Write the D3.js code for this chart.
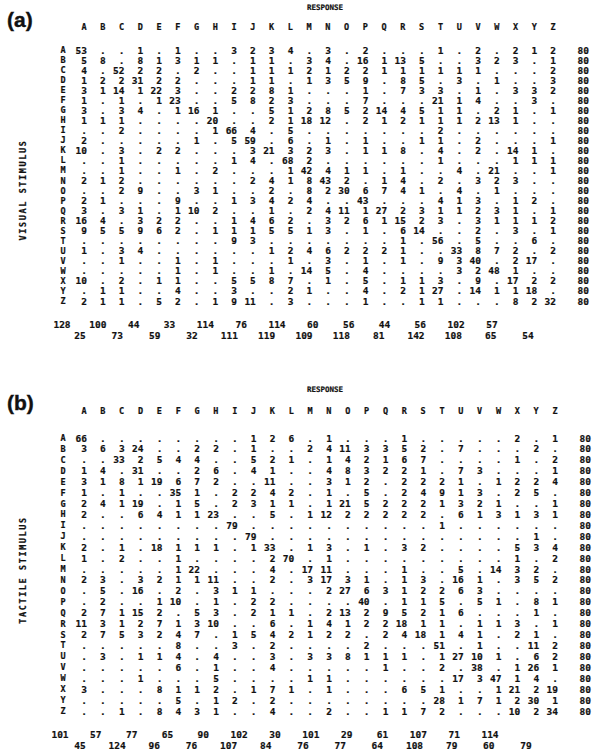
<!DOCTYPE html>
<html>
<head>
<meta charset="utf-8">
<script src="https://cdn.jsdelivr.net/npm/d3@7"></script>
<style>
  body { margin: 0; background: #fff; }
  svg text { font-family: "DejaVu Sans Mono", monospace; font-weight: bold; fill: #111; stroke: #111; stroke-width: 0.2px; }
</style>
</head>
<body>
<div id="chart"></div>
<script>
// Letters used for stimuli and responses
var letters = "ABCDEFGHIJKLMNOPQRSTUVWXYZ".split("");

// (a) visual stimulus -> response counts, one row per stimulus letter (0 printed as ".")
var visualRows = [
  [53,0,0,1,0,1,0,0,3,2,3,4,0,3,0,2,0,0,0,1,0,2,0,2,1,2],
  [5,8,0,8,1,3,1,1,0,1,1,0,3,4,0,16,1,13,5,0,0,3,2,3,0,1],
  [4,0,52,2,2,0,2,0,0,1,1,1,2,1,2,2,1,1,1,1,1,1,0,0,0,2],
  [1,2,2,31,2,2,0,0,0,1,1,0,1,3,5,9,0,8,5,0,3,0,1,0,0,3],
  [3,1,14,1,22,3,0,0,2,2,8,1,0,0,0,1,0,7,3,3,0,1,0,3,3,2],
  [1,0,1,0,1,23,0,0,5,8,2,3,0,0,0,7,0,0,0,21,1,4,0,0,3,0],
  [3,0,3,4,0,1,16,1,0,0,5,1,2,8,5,2,14,4,5,1,1,0,2,1,0,1],
  [1,1,1,0,0,0,0,20,0,0,2,1,18,12,0,2,1,2,1,1,1,2,13,1,0,0],
  [0,0,2,0,0,0,0,1,66,4,0,5,0,0,0,0,0,0,0,2,0,0,0,0,0,0],
  [2,0,0,0,0,0,1,0,5,59,0,6,0,1,0,1,0,0,1,1,0,2,0,0,0,1],
  [10,0,3,0,2,2,0,0,0,3,21,3,2,3,0,1,1,8,0,4,0,2,0,14,1,0],
  [0,0,1,0,0,0,0,0,1,4,0,68,2,0,0,0,0,0,0,1,0,0,0,1,1,1],
  [0,0,1,0,0,1,0,2,0,0,0,1,42,4,1,1,0,1,0,0,4,0,21,0,0,1],
  [2,1,2,0,0,0,0,0,0,2,4,1,8,43,2,0,1,4,0,2,0,3,2,3,0,0],
  [0,0,2,9,0,0,3,1,0,0,2,0,8,2,30,6,7,4,1,0,4,0,1,0,0,0],
  [2,1,0,0,0,9,0,0,1,3,4,2,4,0,0,43,0,0,0,4,1,3,0,1,2,0],
  [3,0,3,1,0,1,10,2,0,0,1,0,2,4,11,1,27,2,3,1,1,2,3,1,0,1],
  [16,4,0,3,2,2,0,0,1,4,6,2,0,3,2,6,1,15,2,3,0,3,1,1,1,2],
  [9,5,5,9,6,2,0,1,1,1,5,5,1,3,0,1,0,6,14,0,0,2,0,3,0,1],
  [0,0,0,0,0,0,0,0,9,3,0,0,0,0,0,0,0,1,0,56,0,5,0,0,6,0],
  [1,0,3,4,0,0,0,0,0,0,1,2,4,6,2,2,2,1,0,0,33,8,7,2,0,2],
  [0,0,1,0,0,1,0,1,0,0,0,1,0,3,0,1,0,1,0,9,3,40,0,2,17,0],
  [0,0,0,0,0,1,0,1,0,0,1,0,14,5,0,4,0,0,0,0,3,2,48,1,0,0],
  [10,0,2,0,1,1,0,0,5,5,8,7,0,1,0,5,0,1,1,3,0,9,0,17,2,2],
  [0,1,1,0,0,4,0,0,3,0,0,2,1,0,0,4,0,2,1,27,0,14,1,1,18,0],
  [2,1,1,0,5,2,0,1,9,11,0,3,0,0,0,1,0,0,1,1,0,0,0,8,2,32]
];
var visualRowTotals = [80,80,80,80,80,80,80,80,80,80,80,80,80,80,80,80,80,80,80,80,80,80,80,80,80,80];
var visualColTotals = [128,25,100,73,44,59,33,32,114,111,76,119,114,109,60,118,56,81,44,142,56,108,102,65,57,54];

// (b) tactile stimulus -> response counts
var tactileRows = [
  [66,0,0,0,0,0,0,0,0,1,2,6,0,1,0,0,0,1,0,0,0,0,0,2,0,1],
  [3,6,3,24,0,0,2,2,0,1,0,0,2,4,11,3,3,5,2,0,7,0,0,0,2,0],
  [0,0,33,2,5,4,4,0,0,5,2,1,0,1,4,2,1,6,7,0,0,0,0,1,0,2],
  [1,4,0,31,0,0,2,6,0,4,1,0,0,4,8,3,2,2,1,0,7,3,0,0,0,1],
  [3,1,8,1,19,6,7,2,0,0,11,0,0,3,1,2,0,2,2,2,1,0,1,2,2,4],
  [1,0,1,0,0,35,1,0,2,2,4,2,0,1,0,5,0,2,4,9,1,3,0,2,5,0],
  [2,4,1,19,0,1,5,0,2,3,1,1,0,1,21,5,2,2,2,1,3,2,1,0,0,1],
  [2,0,0,6,4,1,1,23,0,0,5,0,1,12,2,2,2,2,2,0,6,1,3,1,3,1],
  [0,0,0,0,0,0,0,0,79,0,0,0,0,0,0,0,0,0,0,1,0,0,0,0,0,0],
  [0,0,0,0,0,0,0,0,0,79,0,0,0,0,0,0,0,0,0,0,0,0,0,0,1,0],
  [2,0,1,0,18,1,1,1,0,1,33,0,1,3,0,1,0,3,2,0,0,0,0,5,3,4],
  [1,0,2,0,0,1,0,0,0,0,2,70,0,1,0,0,0,0,0,0,0,0,0,1,0,2],
  [0,0,0,0,0,1,22,0,0,0,4,0,17,11,0,0,0,1,0,0,5,0,14,3,2,0],
  [2,3,0,3,2,1,1,11,0,0,2,0,3,17,3,1,0,1,3,0,16,1,0,3,5,2],
  [0,5,0,16,0,2,0,3,1,1,0,0,0,2,27,6,3,1,2,2,6,3,0,0,0,0],
  [0,2,0,0,1,10,0,1,0,2,2,0,0,0,0,40,0,1,1,5,0,5,1,0,8,1],
  [2,7,1,15,2,0,5,3,0,2,1,1,0,2,13,2,9,5,2,1,6,0,0,0,1,0],
  [11,3,1,2,7,1,3,10,0,0,6,0,1,4,1,2,2,18,1,1,0,1,1,3,0,1],
  [2,7,5,3,2,4,7,0,1,5,4,2,1,2,2,0,2,4,18,1,4,1,0,2,1,0],
  [0,0,0,0,0,8,0,0,3,0,2,0,0,0,0,2,0,0,0,51,0,1,0,0,11,2],
  [0,3,0,1,1,4,0,4,0,0,3,0,3,3,8,1,1,1,0,1,27,10,1,0,6,2],
  [0,0,0,0,0,6,0,1,0,0,4,0,0,0,0,0,1,0,0,2,0,38,0,1,26,1],
  [0,0,0,1,0,0,0,5,0,0,0,0,1,1,0,0,0,0,0,0,17,3,47,1,4,0],
  [3,0,0,0,8,1,1,2,0,1,7,1,0,1,0,0,0,6,5,1,0,0,1,21,2,19],
  [0,0,0,0,0,5,0,1,2,0,2,0,0,0,0,0,0,0,0,28,1,7,1,2,30,1],
  [0,0,1,0,8,4,3,1,0,0,4,0,0,2,0,0,1,1,7,2,0,0,0,10,2,34]
];
var tactileRowTotals = [80,80,80,80,80,80,80,80,80,80,80,80,80,80,80,80,80,80,80,80,80,80,80,80,80,80];
var tactileColTotals = [101,45,57,124,77,96,65,76,90,107,102,84,30,76,101,77,29,64,61,108,107,79,71,60,114,79];

var width = 608, height = 752;

var svg = d3.select("#chart")
    .append("svg")
    .attr("width", width)
    .attr("height", height);

svg.append("rect").attr("width", width).attr("height", height).attr("fill", "#fff");

// Draw one confusion matrix panel
function drawPanel(opt) {
    var g = svg.append("g");

    var x = d3.scalePoint().domain(letters).range([opt.x0, opt.x1]);
    var y = d3.scalePoint().domain(letters).range([opt.y0, opt.y1]);

    // column totals were typed on two staggered lines with their own spacing
    var evenLetters = letters.filter((d, i) => i % 2 === 0);
    var oddLetters = letters.filter((d, i) => i % 2 === 1);
    var xtUp = d3.scalePoint().domain(evenLetters).range(opt.upRange);
    var xtLow = d3.scalePoint().domain(oddLetters).range(opt.lowRange);

    // panel label
    g.append("text")
        .attr("x", 7)
        .attr("y", opt.labelY)
        .style("font-family", "'Liberation Sans', Arial, sans-serif")
        .style("font-size", "21px")
        .style("stroke-width", "0.4px")
        .text(opt.label);

    // RESPONSE title
    g.append("text")
        .attr("x", 325)
        .attr("y", opt.titleY)
        .attr("text-anchor", "middle")
        .style("font-size", "7.5px")
        .text("RESPONSE");

    // column header letters
    g.append("g").selectAll("text")
        .data(letters)
        .enter()
        .append("text")
        .attr("x", d => x(d))
        .attr("y", opt.headY)
        .attr("text-anchor", "middle")
        .style("font-size", "8.5px")
        .text(d => d);

    // row letters
    g.append("g").selectAll("text")
        .data(letters)
        .enter()
        .append("text")
        .attr("x", 63)
        .attr("y", d => y(d) + 3)
        .attr("text-anchor", "middle")
        .style("font-size", "8.5px")
        .text(d => d);

    // side title
    g.append("text")
        .attr("transform", "translate(26," + opt.sideY + ") rotate(-90)")
        .attr("text-anchor", "middle")
        .style("font-size", "8.5px")
        .style("letter-spacing", "1.6px")
        .text(opt.side);

    // cells
    var cells = [];
    opt.rows.forEach(function(row, i) {
        row.forEach(function(v, j) {
            cells.push({r: letters[i], c: letters[j], v: v});
        });
    });

    g.append("g").selectAll("text")
        .data(cells)
        .enter()
        .append("text")
        .attr("x", d => x(d.c) + 3)
        .attr("y", d => y(d.r) + 3.5)
        .attr("text-anchor", "end")
        .style("font-size", "9.5px")
        .text(d => d.v === 0 ? "." : d.v);

    // row totals
    g.append("g").selectAll("text")
        .data(opt.rowTotals)
        .enter()
        .append("text")
        .attr("x", opt.x1 + 36)
        .attr("y", (d, i) => y(letters[i]) + 3.5)
        .attr("text-anchor", "end")
        .style("font-size", "9.5px")
        .text(d => d);

    // column totals, staggered on two lines
    g.append("g").selectAll("text")
        .data(opt.colTotals)
        .enter()
        .append("text")
        .attr("x", (d, i) => i % 2 === 0 ? xtUp(letters[i]) : xtLow(letters[i]))
        .attr("y", (d, i) => i % 2 === 0 ? opt.totY : opt.totY + 11)
        .attr("text-anchor", "middle")
        .style("font-size", "9.5px")
        .text(d => d);
}

drawPanel({
    label: "(a)", labelY: 27, titleY: 10, headY: 30,
    side: "VISUAL  STIMULUS", sideY: 190,
    x0: 84, x1: 553, y0: 50, y1: 301,
    upRange: [62, 492], lowRange: [80, 528], totY: 328,
    rows: visualRows, rowTotals: visualRowTotals, colTotals: visualColTotals
});

drawPanel({
    label: "(b)", labelY: 410, titleY: 392, headY: 414,
    side: "TACTILE  STIMULUS", sideY: 570,
    x0: 84, x1: 555, y0: 438, y1: 711,
    upRange: [60, 490], lowRange: [80, 526], totY: 738,
    rows: tactileRows, rowTotals: tactileRowTotals, colTotals: tactileColTotals
});
</script>
</body>
</html>
